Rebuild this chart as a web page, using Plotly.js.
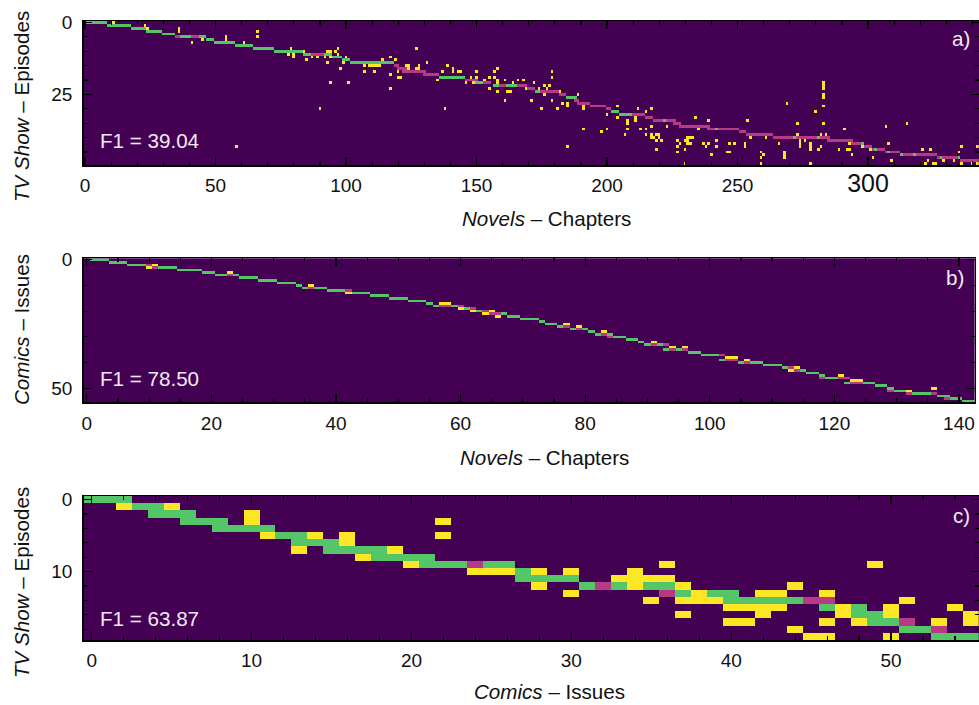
<!DOCTYPE html>
<html><head><meta charset="utf-8">
<script src="https://cdn.plot.ly/plotly-3.0.1.min.js"></script>
<style>html,body{margin:0;padding:0;background:#fff}
.subplot.xy .heatmaplayer image{filter:blur(0.5px)}</style></head>
<body><div id="chart" style="width:979px;height:705px"></div>
<script>
// Each run is [row, firstColumn, lastColumn]
const aHit=[[0,0,8],[1,9,17],[2,18,23],[3,24,29],[4,30,34],[5,37,40],[5,44,46],[6,47,49],[7,50,57],[8,58,64],[9,65,72],[10,73,83],[11,84,86],[11,92,94],[12,95,98],[13,99,101],[14,102,118],[19,136,145],[21,150,152],[22,157,158],[22,162,165],[24,173,174],[26,185,188],[31,202,204],[32,205,209],[34,222,222],[37,242,242],[40,272,272],[40,281,281],[42,298,298],[44,303,303],[45,308,308],[46,313,313],[46,318,318],[47,328,328],[47,335,335]];
const aMiss=[[5,35,36],[5,41,43],[11,87,91],[15,119,120],[16,120,123],[17,122,130],[18,130,135],[20,146,150],[21,153,155],[22,159,161],[22,166,169],[23,170,172],[24,175,181],[25,182,184],[27,188,189],[28,189,193],[29,194,199],[30,200,201],[32,210,214],[33,215,217],[34,218,221],[34,223,226],[35,226,228],[36,228,239],[37,239,241],[37,243,250],[38,251,253],[39,254,263],[40,264,271],[40,273,280],[40,282,285],[41,285,294],[42,294,297],[43,299,301],[44,302,302],[44,304,306],[45,307,307],[45,309,312],[46,314,317],[46,319,326],[47,327,327],[47,329,334],[48,336,342]];
const aFalse=[[1,9,10],[0,11,11],[1,23,23],[2,24,24],[2,36,36],[3,36,36],[7,41,41],[6,45,45],[5,54,54],[6,54,54],[7,57,57],[7,61,61],[3,66,66],[5,66,66],[10,73,73],[10,75,75],[11,78,78],[9,79,79],[11,80,80],[12,80,80],[10,82,82],[10,84,84],[13,85,85],[12,87,87],[12,89,89],[12,92,92],[14,93,93],[10,93,94],[21,94,94],[30,90,90],[43,58,58],
[10,96,96],[9,97,97],[11,97,97],[12,94,94],[14,99,99],[12,100,100],[14,103,103],[16,98,98],[21,101,101],[15,107,107],[17,107,107],[15,109,113],[14,111,111],[13,114,114],[12,117,117],[18,117,117],[23,117,117],[17,111,111],[13,119,119],[17,120,120],[19,120,121],[15,123,124],[16,123,124],[15,128,128],[16,127,128],[9,127,127],[14,131,131],[17,137,137],[20,135,135],[15,139,139],[16,141,141],[17,141,141],[17,143,144],[30,138,138],[21,146,146],[19,148,148],[21,149,149],[17,150,150],[19,150,150],[20,153,153],[19,155,155],[23,155,155],[17,157,157],[16,158,158],[19,157,157],[20,158,158],[21,158,158],[22,158,158],[24,158,158],[20,161,161],[27,161,161],[24,162,163],[21,164,164],[20,166,166],[20,168,168],[23,169,169],[21,172,172],[27,171,171],[23,174,174],[24,174,174],[22,176,176],[22,178,178],[23,177,177],[30,175,175],[17,179,179],[19,179,179],[25,176,176],[27,179,179],[30,181,181],[24,182,182],[28,185,185],[29,185,185],[28,183,183],[25,189,189],[27,189,189],[43,185,185],[37,191,191],[29,191,191],[30,191,191],[28,192,192],[29,196,197],[32,200,200],[37,200,200],[38,198,198],[29,204,204],[33,204,204],[30,212,212],[31,215,215],[33,211,211],[34,211,211],[34,208,208],[35,208,208],[37,208,208],[39,207,207],[37,213,213],[37,215,215],[39,215,215],[36,217,217],[39,217,217],[30,217,217],[39,219,220],[41,219,219],[44,219,219],[40,217,218],[40,220,220],
[41,221,221],[36,223,223],[41,227,227],[43,227,227],[45,227,227],[42,228,228],[44,230,230],[41,230,231],[40,231,232],[42,231,232],[40,233,233],[33,234,234],[37,235,235],[49,230,230],[42,237,237],[43,238,238],[42,239,239],[34,239,239],[41,242,242],[43,242,242],[46,240,240],[42,247,247],[42,249,249],[45,246,247],[42,253,253],[43,253,253],[34,254,254],[40,255,255],[45,259,259],[46,260,260],[47,259,259],[49,259,259],[40,261,261],[42,266,266],[45,268,268],[46,268,268],[47,268,268],[28,269,269],[35,273,273],[39,273,273],[41,274,274],[42,274,274],[43,274,274],[41,276,276],[42,278,278],[43,278,278],[44,278,278],[49,278,278],[31,280,280],[44,281,281],[43,282,282],[39,282,282],[21,283,283],[22,283,283],[23,283,283],[25,283,283],[26,283,283],[29,283,283],[35,283,283],[39,284,284],[44,289,289],[37,291,291],[44,292,293],[42,293,293],[46,294,294],[43,298,298],[44,301,301],[47,302,302],[36,307,307],[42,308,308],[48,309,309],[35,315,315],[46,318,318],[44,321,321],[44,324,324],[49,322,322],[48,323,323],[49,325,326],[48,329,329],[48,333,333],[45,335,335],[43,336,336],[49,336,336],[43,342,342],[49,340,340],[49,342,342]];

const bHit=[[0,1,3],[1,4,6],[2,7,9],[3,12,14],[4,15,18],[5,19,20],[6,21,22],[6,24,24],[7,25,27],[8,28,30],[9,31,33],[10,34,34],[11,35,35],[11,37,38],[12,39,41],[13,43,45],[14,46,48],[15,49,51],[16,52,54],[17,55,55],[18,56,56],[18,59,59],[19,61,61],[20,63,63],[21,67,67],[22,68,69],[23,70,72],[24,73,73],[25,74,75],[26,76,76],[27,78,78],[27,80,80],[28,81,81],[29,82,82],[29,84,84],[30,85,86],[31,87,88],[32,89,89],[33,90,90],[33,92,92],[35,93,93],[35,95,95],[36,97,98],[37,99,101],[39,102,102],[40,105,105],[40,107,108],[41,109,111],[42,112,112],[43,115,115],[44,116,117],[45,118,118],[46,119,120],[48,122,122],[48,125,126],[49,127,128],[50,129,129],[51,130,131],[52,133,135],[53,137,138],[54,139,140],[55,141,142]];
const bMiss=[[2,10,10],[3,11,11],[6,23,23],[11,36,36],[12,42,42],[18,57,58],[18,60,60],[19,62,62],[20,64,64],[21,65,66],[26,77,77],[27,79,79],[29,83,83],[30,84,84],[33,91,91],[33,93,93],[35,94,94],[35,96,96],[37,102,102],[39,103,104],[40,106,106],[42,113,113],[43,114,114],[46,118,118],[46,121,122],[48,123,124],[51,129,129],[52,132,132],[52,136,136],[54,138,138]];
const bFalse=[[2,11,11],[3,10,10],[5,23,23],[10,36,36],[13,42,42],[17,57,58],[19,60,60],[20,62,62],[21,64,64],[20,65,65],[22,66,66],[25,77,77],[26,79,79],[28,83,83],[32,91,91],[34,94,94],[34,96,96],[38,103,104],[39,106,106],[43,113,113],[42,114,114],[45,121,121],[47,123,124],[51,132,132],[50,136,136]];

const cHit=[[0,0,2],[1,3,4],[2,4,6],[3,6,8],[4,8,11],[5,12,13],[6,13,15],[7,15,18],[8,18,21],[9,21,23],[9,25,26],[10,27,27],[11,27,30],[12,31,31],[12,33,33],[12,35,36],[13,37,37],[13,39,40],[14,40,44],[15,46,46],[15,48,48],[16,48,49],[17,49,50],[18,51,52],[19,53,55]];
const cMiss=[[9,24,24],[12,32,32],[13,36,36],[14,45,46],[17,51,51],[18,53,53]];
const cFalse=[[1,2,2],[1,5,5],[2,10,10],[3,10,10],[3,22,22],[5,11,11],[5,14,14],[5,16,16],[5,22,22],[6,16,16],[7,13,13],[7,19,19],[8,17,17],[9,20,20],[9,36,36],[9,49,49],[10,24,26],[10,28,28],[10,30,30],[10,34,34],[11,33,36],[12,28,28],[12,34,34],[12,37,37],[12,44,44],[13,30,30],[13,38,38],[13,42,43],[13,46,46],[14,35,35],[14,37,39],[14,51,51],[15,40,43],[15,47,47],[15,50,50],[15,54,54],[16,37,37],[16,42,42],[16,47,47],[16,50,50],[16,55,55],[17,40,41],[17,46,46],[17,48,48],[17,53,53],[17,55,55],[18,44,44],[19,45,46],[19,50,50]];

const aTickVals=[0,50,100,150,200,250,300];
const aTickText=['0','50','100','150','200','250','<span style="font-size:25px">300</span>'];
const bTickVals=[0,20,40,60,80,100,120,140];
const cTickVals=[0,10,20,30,40,50];

const W=979,H=705;
const colours=[[0,'#440154'],[0.25,'#440154'],[0.25,'#fde725'],[0.5,'#fde725'],[0.5,'#b93a84'],[0.75,'#b93a84'],[0.75,'#55c667'],[1,'#55c667']];

function grid(rows,cols,fals,miss,hit){
  const z=Array.from({length:rows},()=>new Array(cols).fill(0));
  [[fals,1],[miss,2],[hit,3]].forEach(([runs,v])=>runs.forEach(([r,a,b])=>{
    for(let c=a;c<=b;c++) if(r<rows&&c<cols) z[r][c]=v;
  }));
  return z;
}
function hm(z,xa,ya){return{type:'heatmap',z:z,xaxis:xa,yaxis:ya,zmin:-0.5,zmax:3.5,colorscale:colours,showscale:false,zsmooth:false,hoverinfo:'skip'};}
const tickFont={family:'Liberation Sans, Arial, sans-serif',size:19,color:'#111'};
const minorTicks=(d)=>({dtick:d,tick0:0,ticks:'inside',ticklen:4,tickwidth:1.2,tickcolor:'#000',showgrid:false});
function xax(range,left,right,anchor,vals,minor,text){
  return {domain:[left/W,right/W],range:range,anchor:anchor,tickmode:'array',tickvals:vals,ticktext:text||vals.map(String),
    ticks:'inside',ticklen:8,tickwidth:1.2,tickcolor:'#000',mirror:'allticks',showline:true,linecolor:'#000',linewidth:1.5,showgrid:false,zeroline:false,
    tickfont:tickFont,tickangle:0,ticklabelstandoff:3,layer:'above traces',minor:minorTicks(minor)};
}
function yax(range,top,bottom,anchor,vals,minor){
  return {domain:[1-bottom/H,1-top/H],range:range,anchor:anchor,tickmode:'array',tickvals:vals,ticktext:vals.map(String),
    ticks:'inside',ticklen:8,tickwidth:1.2,tickcolor:'#000',mirror:'allticks',showline:true,linecolor:'#000',linewidth:1.5,showgrid:false,zeroline:false,
    tickfont:tickFont,ticklabelstandoff:6,layer:'above traces',minor:minorTicks(minor)};
}
function note(text,px,py,size,color,angle,anchor){
  return {text:text,xref:'paper',yref:'paper',x:px/W,y:1-py/H,showarrow:false,xanchor:anchor||'center',yanchor:'middle',textangle:angle||0,borderpad:0,
    font:{family:'Liberation Sans, Arial, sans-serif',size:size,color:color}};
}
const data=[hm(grid(50,343,aFalse,aMiss,aHit),'x','y'),hm(grid(56,143,bFalse,bMiss,bHit),'x2','y2'),hm(grid(20,56,cFalse,cMiss,cHit),'x3','y3')];
const layout={width:W,height:H,margin:{l:0,r:0,t:0,b:0},paper_bgcolor:'#fff',plot_bgcolor:'#440154',showlegend:false,
  xaxis:xax([-0.5,342.5],83.7,979,'y',aTickVals,10,aTickText),
  yaxis:yax([49.5,-0.5],21,165,'x',[0,25],5),
  xaxis2:xax([-0.5,142.5],83.7,974.5,'y2',bTickVals,5),
  yaxis2:yax([55.5,-0.5],258.4,402.4,'x2',[0,50],10),
  xaxis3:xax([-0.5,55.5],83.7,979,'y3',cTickVals,2),
  yaxis3:yax([19.5,-0.5],496,640,'x3',[0,10],2),
  annotations:[
    note('<i>Novels</i> – Chapters',546,218,20.6,'#111'),
    note('<i>Novels</i> – Chapters',544,457,20.6,'#111'),
    note('<i>Comics</i> – Issues',549,691,20.6,'#111'),
    note('<i>TV Show</i> – Episodes',21,107,20.6,'#111',-90),
    note('<i>Comics</i> – Issues',21,330,20.6,'#111',-90),
    note('<i>TV Show</i> – Episodes',21,583,20.6,'#111',-90),
    note('F1 = 39.04',99,140,20.6,'#f0ebf0',0,'left'),
    note('F1 = 78.50',98.5,378,20.6,'#f0ebf0',0,'left'),
    note('F1 = 63.87',99,618,20.6,'#f0ebf0',0,'left'),
    note('a)',971,39,20.6,'#f0ebf0',0,'right'),
    note('b)',965,277,20.6,'#f0ebf0',0,'right'),
    note('c)',971,515,20.6,'#f0ebf0',0,'right')
  ]};
Plotly.newPlot('chart',data,layout,{staticPlot:true,displayModeBar:false});
</script></body></html>
